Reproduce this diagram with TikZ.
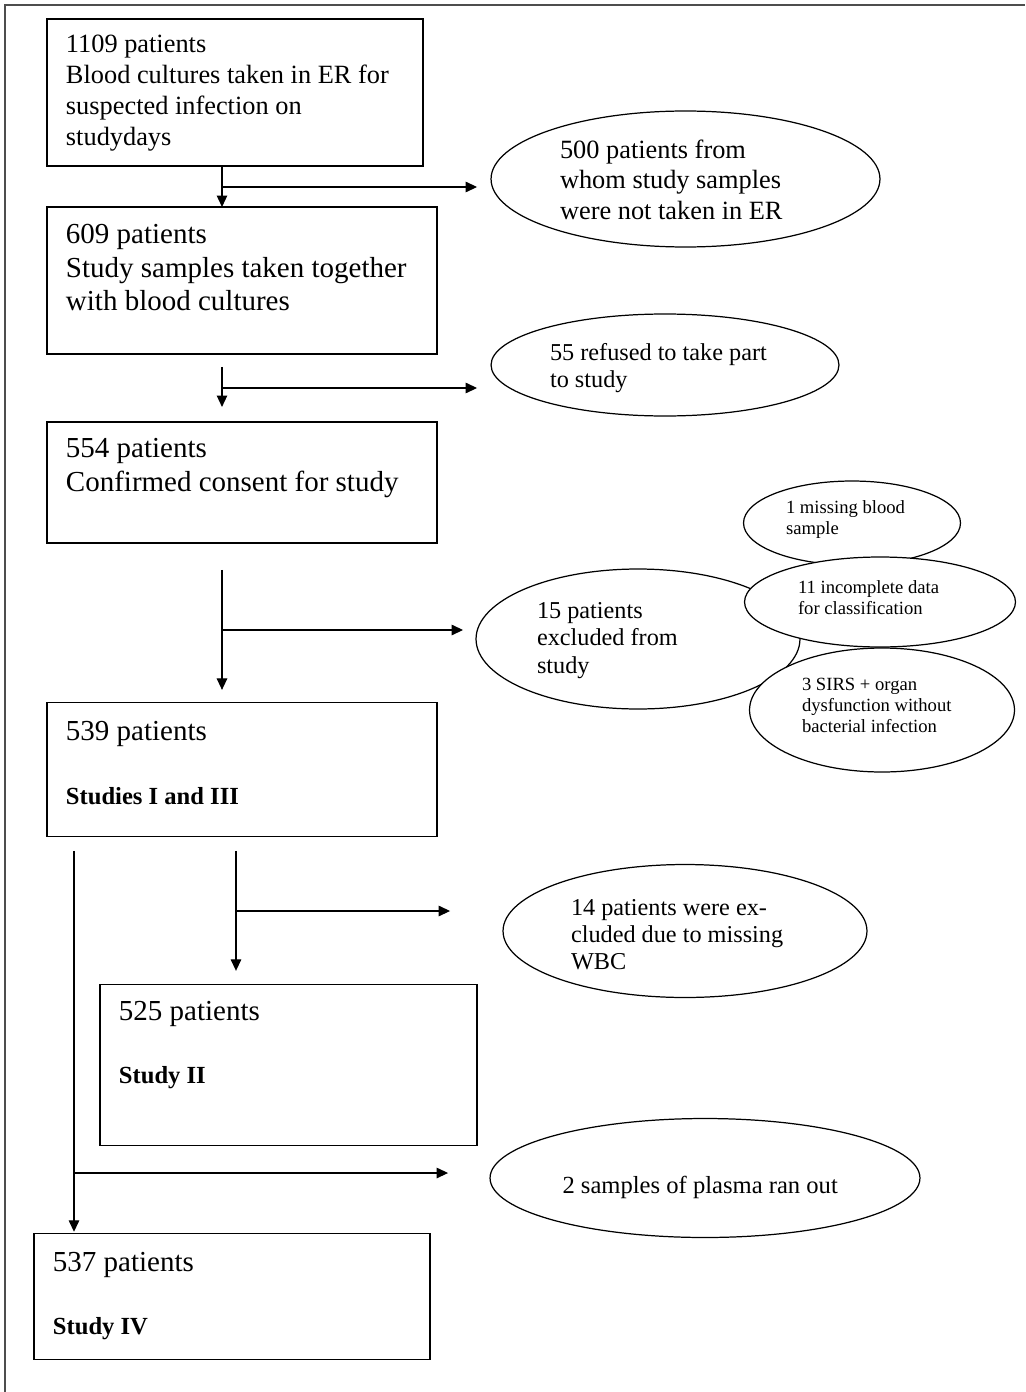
\documentclass[tikz,border=0pt]{standalone}
\usepackage{fontspec}
\setmainfont{Liberation Serif}
\usetikzlibrary{arrows.meta,positioning,shapes.geometric}
\definecolor{frameGray}{HTML}{4D4D4D}

\begin{document}
\begin{tikzpicture}[
x=0.02cm, y=-0.02cm,
box/.style={draw, line width=0.7pt, align=flush left, inner xsep=0.38cm, inner ysep=0pt, outer sep=0pt, font=\fontsize{16.5}{19}\selectfont},
oval/.style={draw, line width=0.7pt, ellipse, fill=white, align=flush left, inner sep=0pt, outer sep=0pt, text height=0pt},
smalloval/.style={oval, font=\fontsize{10.6}{12.2}\selectfont},
arr/.style={-{Triangle[length=6.5pt,width=6pt]}, line width=0.6pt},
pageframe/.style={draw=frameGray, line width=0.8pt}
]
\useasboundingbox (0,0) rectangle (1025,1392);
\draw[pageframe] (5,1392) -- (5,5) -- (1025,5);

% Patient boxes (main chain)
\node[box, anchor=north west, text width=6.76cm, text height=0.68cm, text depth=2.26cm, font=\fontsize{15}{17.5}\selectfont] (n1109) at (47,19) {1109 patients\\Blood cultures taken in ER for\\suspected infection on\\studydays};
\node[box, below=0.82cm of n1109.south west, anchor=north west, text width=7.04cm, text height=0.74cm, text depth=2.2cm] (n609) {609 patients\\Study samples taken together\\with blood cultures};
\node[box, below=1.36cm of n609.south west, anchor=north west, text width=7.04cm, text height=0.72cm, text depth=1.7cm] (n554) {554 patients\\Confirmed consent for study};
\node[box, below=3.2cm of n554.south west, anchor=north west, text width=7.04cm, text height=0.76cm, text depth=1.92cm] (n539) {539 patients\\[17pt]\textbf{\fontsize{14}{19}\selectfont Studies I and III}};
\node[box, below=2.96cm of n539.south west, anchor=north west, xshift=1.06cm, text width=6.78cm, text height=0.72cm, text depth=2.5cm] (n525) {525 patients\\[16.5pt]\textbf{\fontsize{14}{19}\selectfont Study II}};
\node[box, below=1.76cm of n525.south west, anchor=north west, xshift=-1.32cm, text width=7.16cm, text height=0.76cm, text depth=1.76cm] (n537) {537 patients\\[16.5pt]\textbf{\fontsize{14}{19}\selectfont Study IV}};

% Exclusions
\node[oval, minimum width=7.78cm, minimum height=2.72cm, text width=5.02cm, text depth=0.84cm, font=\fontsize{15}{17.6}\selectfont] (eNotTaken) at (685.5,179) {500 patients from\\whom study samples\\were not taken in ER};
\node[oval, minimum width=6.96cm, minimum height=2.04cm, text width=4.6cm, text depth=0.2cm, font=\fontsize{13.8}{15.9}\selectfont] (eRefused) at (665,365) {55 refused to take part\\to study};
\node[oval, minimum width=6.48cm, minimum height=2.8cm, text width=4.04cm, text depth=0.84cm, font=\fontsize{13.8}{15.9}\selectfont] (eExcluded) at (638,639) {15 patients\\excluded from\\study};
\node[smalloval, minimum width=4.34cm, minimum height=1.68cm, text width=2.64cm, text depth=0.4cm] (eBlood) at (852,523) {1 missing blood\\sample};
\node[smalloval, minimum width=5.42cm, minimum height=1.8cm, text width=3.28cm, text depth=0.36cm] (eData) at (880,602) {11 incomplete data\\for classification};
\node[smalloval, minimum width=5.3cm, minimum height=2.48cm, text width=3.2cm, text depth=0.8cm] (eSirs) at (882,710) {3 SIRS + organ\\dysfunction without\\bacterial infection};
\node[oval, minimum width=7.28cm, minimum height=2.66cm, text width=4.56cm, text depth=0.64cm, font=\fontsize{13.8}{15.6}\selectfont] (eWbc) at (685,931) {14 patients were ex-\\cluded due to missing\\WBC};
\node[oval, minimum width=8.6cm, minimum height=2.38cm, text width=5.7cm, text height=0.6cm, text depth=0pt, font=\fontsize{14}{16}\selectfont] (ePlasma) at (705,1178) {2 samples of plasma ran out};

% Arrows
\coordinate (j1) at (222,187);
\draw[arr] (n1109.south -| j1) -- (n609.north -| j1);
\draw[arr, shorten >=0.28cm] (j1) -- (j1 -| eNotTaken.west);

\coordinate (j2) at (222,388);
\draw[arr, shorten <=0.26cm, shorten >=0.3cm] (n609.south -| j2) -- (n554.north -| j2);
\draw[arr, shorten >=0.28cm] (j2) -- (j2 -| eRefused.west);

\coordinate (j3) at (222,630);
\draw[arr, shorten <=0.54cm, shorten >=0.26cm] (n554.south -| j3) -- (n539.north -| j3);
\draw[arr, shorten >=0.26cm] (j3) -- (j3 -| eExcluded.west);

\coordinate (j4) at (236,911);
\draw[arr, shorten <=0.28cm, shorten >=0.28cm] (n539.south -| j4) -- (n525.north -| j4);
\draw[arr, shorten >=1.06cm] (j4) -- (j4 -| eWbc.west);

\coordinate (j5) at (74,1173);
\draw[arr, shorten <=0.28cm, shorten >=0.04cm] (n539.south -| j5) -- (n537.north -| j5);
\draw[arr, shorten >=0.84cm] (j5) -- (j5 -| ePlasma.west);

\end{tikzpicture}
\end{document}
